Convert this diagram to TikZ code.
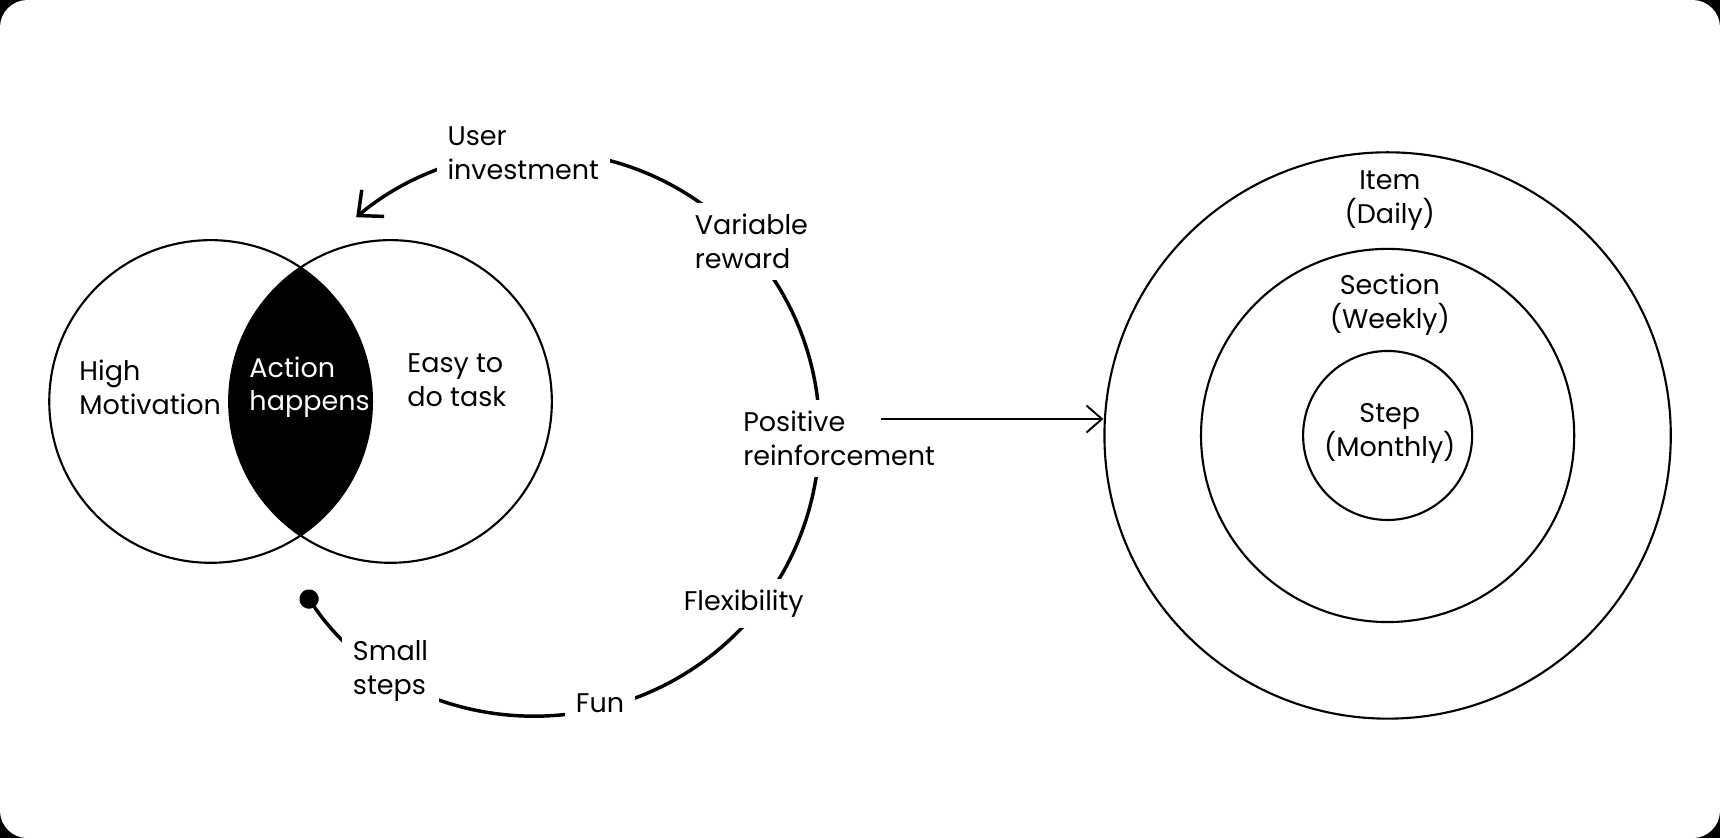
\documentclass[tikz,border=0pt]{standalone}
\usepackage{fontspec}
\setmainfont{Poppins}
\usetikzlibrary{arrows.meta}
\tikzset{
	txt/.style={font=\fontsize{7}{8.8}\selectfont, align=left},
	tag/.style={txt, fill=white, inner sep=0.1cm},
	ring/.style={circle, draw, line width=0.55pt, inner sep=0pt},
	loopline/.style={line width=0.9pt}
}
\begin{document}
\begin{tikzpicture}[x=0.01cm,y=-0.01cm]
	\fill[black] (0,0) rectangle (1568,764);			%frame
	\fill[white, rounded corners=0.25cm] (0,0) rectangle (1568,764);
	\useasboundingbox (0,0) rectangle (1568,764);
	
	% venn part
	\def\r{1.47cm}
	\coordinate (mot) at (192,366);
	\coordinate (easy) at (356,366);
	\begin{scope}
		\clip (mot) circle (\r);
		\fill (easy) circle (\r);
	\end{scope}
	\draw[line width=0.55pt] (mot) circle (\r) (easy) circle (\r);
	\node[txt, anchor=west] (high) at (60,353) {High\\Motivation};
	\node[txt, anchor=west, text=white] (act) at (215,353) {Action\\happens};
	\node[txt, anchor=west] (todo) at (359,347) {Easy to\\do task};
	
	% loop
	\coordinate (hub) at (490,395);
	\draw[loopline, {Circle[length=5pt]}-{Straight Barb[length=5pt,width=9pt]}]
		(hub) ++(214:2.57cm) arc[start angle=214, end angle=490, radius=2.57cm];
	\node[tag] (inv) at (477,140) {User\\investment};
	\node[tag] (var) at (685,220) {Variable\\reward};
	\node[tag] (pos) at (765,400) {Positive\\reinforcement};
	\node[tag] (flex) at (678,550) {Flexibility};
	\node[tag] (fun) at (547,641) {Fun};
	\node[tag] (small) at (356,612) {Small\\steps};
	
	% rings
	\node[ring, minimum size=5.16cm] (item) at (1265,397) {};
	\node[ring, minimum size=3.40cm] (sec) at (1265,397) {};
	\node[ring, minimum size=1.54cm] (step) at (1265,397) {};
	\node[txt, align=center] (itemtxt) at (1267,183) {Item\\(Daily)};
	\node[txt, align=center] (sectxt) at (1267,278) {Section\\(Weekly)};
	\node[txt, align=center] (steptxt) at (1267,395) {Step\\(Monthly)};
	
	\draw[line width=0.5pt, -{Straight Barb[length=4pt,width=7pt]}] (803,382) -- (item.west |- 0,382);
\end{tikzpicture}
\end{document}
